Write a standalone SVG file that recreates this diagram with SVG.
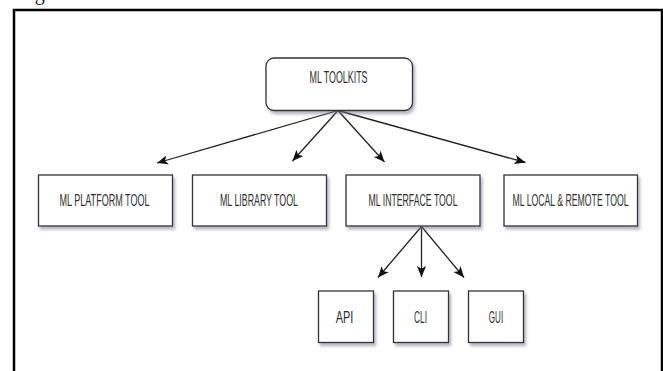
<svg xmlns="http://www.w3.org/2000/svg" width="663" height="371" viewBox="0 0 663 371">
<style>
.box{fill:#ffffff;stroke:#333333;stroke-width:1.3;filter:url(#sh)}
.lbl{font-family:"Liberation Sans",Arial,sans-serif;font-size:16.5px;fill:#2e2e2e;text-anchor:middle}
.con{stroke:#222222;stroke-width:1.3;fill:none;marker-end:url(#ah)}
</style>
<defs>
<filter id="sh" x="-20%" y="-20%" width="140%" height="150%">
<feDropShadow dx="2" dy="3" stdDeviation="1.6" flood-color="#7a7a90" flood-opacity="0.55"/>
</filter>
<marker id="ah" markerUnits="userSpaceOnUse" markerWidth="11" markerHeight="11" viewBox="0 0 10 10" refX="10" refY="5" orient="auto">
<path d="M0,0.8 L10,5 L0,9.2 L2.5,5 z" fill="#111111"/>
</marker>
</defs>
<rect width="663" height="371" fill="#ffffff"/>
<text x="18" y="-0.5" font-family="Liberation Serif,serif" font-size="20" fill="#222">Figure</text>
<rect x="14" y="10" width="648" height="380" fill="none" stroke="#000000" stroke-width="2.5"/>
<g id="connectors">
<line class="con" x1="338" y1="110.5" x2="157" y2="163"/>
<line class="con" x1="338" y1="110.5" x2="292.5" y2="161"/>
<line class="con" x1="338" y1="110.5" x2="384.5" y2="162"/>
<line class="con" x1="338" y1="110.5" x2="525.5" y2="162.5"/>
<line class="con" x1="421.5" y1="226.5" x2="378" y2="277.5"/>
<line class="con" x1="421.5" y1="226.5" x2="421.5" y2="277"/>
<line class="con" x1="421.5" y1="226.5" x2="464" y2="277.5"/>
</g>
<g id="toolkits">
<rect class="box" x="266" y="58" width="146.5" height="52.5" rx="8"/>
<text class="lbl" x="338.5" y="83" textLength="58" lengthAdjust="spacingAndGlyphs">ML TOOLKITS</text>
</g>
<g id="platform">
<rect class="box" x="38.5" y="175" width="134" height="51"/>
<text class="lbl" x="104.5" y="206" textLength="90" lengthAdjust="spacingAndGlyphs">ML PLATFORM TOOL</text>
</g>
<g id="library">
<rect class="box" x="192.5" y="175" width="134" height="51"/>
<text class="lbl" x="259" y="206" textLength="78" lengthAdjust="spacingAndGlyphs">ML LIBRARY TOOL</text>
</g>
<g id="interface">
<rect class="box" x="346" y="175" width="134" height="51"/>
<text class="lbl" x="413" y="206" textLength="89" lengthAdjust="spacingAndGlyphs">ML INTERFACE TOOL</text>
</g>
<g id="localremote">
<rect class="box" x="504" y="175" width="133.5" height="51"/>
<text class="lbl" x="570.5" y="206" textLength="116" lengthAdjust="spacingAndGlyphs">ML LOCAL &amp; REMOTE TOOL</text>
</g>
<g id="api">
<rect class="box" x="318.5" y="291" width="55" height="51.5"/>
<text class="lbl" x="344.5" y="322.5" textLength="17.6" lengthAdjust="spacingAndGlyphs">API</text>
</g>
<g id="cli">
<rect class="box" x="393.5" y="291" width="55" height="51.5"/>
<text class="lbl" x="420.5" y="322.5" textLength="13" lengthAdjust="spacingAndGlyphs">CLI</text>
</g>
<g id="gui">
<rect class="box" x="468.5" y="291" width="55" height="51.5"/>
<text class="lbl" x="496" y="322.5" textLength="14.3" lengthAdjust="spacingAndGlyphs">GUI</text>
</g>
</svg>
